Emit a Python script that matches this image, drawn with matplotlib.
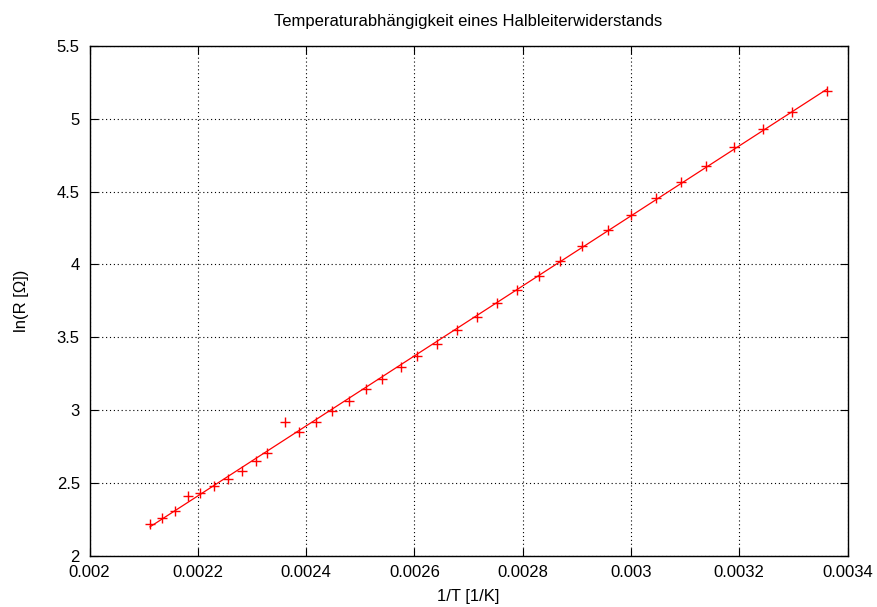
import numpy as np
import matplotlib
matplotlib.use("Agg")
import matplotlib.pyplot as plt
from matplotlib.ticker import FixedLocator, FixedFormatter

plt.rcParams['font.family'] = ['Liberation Sans', 'DejaVu Sans']

# inverse temperature [1/K]
inv_T = [0.0021117, 0.0021344, 0.0021579, 0.0021825, 0.0022046, 0.0022305,
         0.0022558, 0.0022811, 0.0023075, 0.0023283, 0.0023616, 0.0023863,
         0.0024188, 0.0024478, 0.0024787, 0.0025101, 0.0025407, 0.0025747,
         0.0026054, 0.0026412, 0.0026792, 0.0027151, 0.0027531, 0.0027900,
         0.0028307, 0.0028689, 0.0029095, 0.0029570, 0.0029994, 0.0030462,
         0.0030918, 0.0031385, 0.0031902, 0.0032432, 0.0032979, 0.0033614]
# ln(R [Ohm])
ln_R = [2.216, 2.257, 2.305, 2.410, 2.427, 2.477,
        2.527, 2.582, 2.648, 2.703, 2.914, 2.845,
        2.914, 2.991, 3.062, 3.142, 3.213, 3.295,
        3.368, 3.455, 3.547, 3.638, 3.734, 3.823,
        3.917, 4.022, 4.123, 4.237, 4.340, 4.457,
        4.564, 4.678, 4.804, 4.927, 5.044, 5.188]

x_ticks = [0.002, 0.0022, 0.0024, 0.0026, 0.0028, 0.003, 0.0032, 0.0034]
x_tick_labels = ["0.002", "0.0022", "0.0024", "0.0026", "0.0028", "0.003", "0.0032", "0.0034"]
y_ticks = [2, 2.5, 3, 3.5, 4, 4.5, 5, 5.5]
y_tick_labels = ["2", "2.5", "3", "3.5", "4", "4.5", "5", "5.5"]

fig = plt.figure(figsize=(8.77, 6.07), dpi=100)
ax = fig.add_axes([89.5 / 877, (607 - 555.5) / 607, (847.6 - 89.5) / 877, (555.5 - 45.9) / 607])

x = np.array(inv_T)
y = np.array(ln_R)
slope, intercept = np.polyfit(x, y, 1)
xs = np.array([x.min(), x.max()])
ax.plot(xs, slope * xs + intercept, color='red', lw=0.9, zorder=3)
ax.plot(x, y, linestyle='none', marker='+', color='red', markersize=7, markeredgewidth=1.0, zorder=4)

ax.set_xlim(0.002, 0.0034)
ax.set_ylim(2, 5.5)
ax.xaxis.set_major_locator(FixedLocator(x_ticks))
ax.xaxis.set_major_formatter(FixedFormatter(x_tick_labels))
ax.yaxis.set_major_locator(FixedLocator(y_ticks))
ax.yaxis.set_major_formatter(FixedFormatter(y_tick_labels))

ax.grid(True, color='black', linestyle=(0, (1, 2.5)), linewidth=0.8)
ax.tick_params(direction='in', length=6, width=0.8, top=True, right=True,
               labelsize=12, pad=7, colors='black')
for s in ax.spines.values():
    s.set_linewidth(1.0)
    s.set_color('black')

ax.set_title("Temperaturabhängigkeit eines Halbleiterwiderstands", fontsize=12, pad=14)
ax.set_xlabel("1/T [1/K]", fontsize=12, labelpad=6)
ax.set_ylabel("ln(R [Ω])", fontsize=12, labelpad=20)

fig.savefig("out.png", dpi=100)
